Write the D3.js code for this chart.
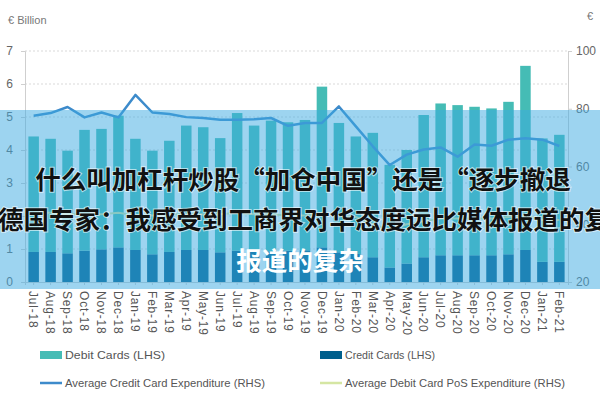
<!DOCTYPE html>
<html>
<head>
<meta charset="utf-8">
<script src="https://cdn.jsdelivr.net/npm/d3@7"></script>
<style>
  html, body { margin: 0; padding: 0; background: #fff; }
  svg { display: block; }
</style>
</head>
<body>
<svg id="chart" width="600" height="400"></svg>
<script>
// ---- Data ----
const months = ["Jul-18","Aug-18","Sep-18","Oct-18","Nov-18","Dec-18","Jan-19","Feb-19","Mar-19","Apr-19","May-19","Jun-19",
  "Jul-19","Aug-19","Sep-19","Oct-19","Nov-19","Dec-19","Jan-20","Feb-20","Mar-20","Apr-20","May-20","Jun-20",
  "Jul-20","Aug-20","Sep-20","Oct-20","Nov-20","Dec-20","Jan-21","Feb-21"];
// € billion (LHS)
const creditCards = [0.91,0.91,0.87,0.95,0.99,1.05,0.97,0.84,0.91,0.97,0.97,0.90,
  0.95,0.93,0.93,0.95,0.96,1.05,0.90,0.85,0.75,0.44,0.56,0.75,
  0.81,0.81,0.81,0.81,0.84,0.97,0.61,0.61];
const debitCards = [3.50,3.43,3.11,3.66,3.65,3.99,3.37,3.14,3.37,3.77,3.72,3.46,
  4.17,3.81,3.96,3.89,3.95,4.87,3.92,3.56,3.77,3.11,3.44,4.31,
  4.60,4.55,4.50,4.45,4.62,5.58,3.74,3.85];
// € (RHS)
const avgCreditExp = [77.6,78.5,80.6,77.0,78.7,77.0,84.8,78.7,78.2,77.1,76.8,76.2,
  76.2,76.4,76.8,74.1,75.1,75.1,80.8,73.9,67.0,60.5,64.1,65.9,
  66.6,63.4,67.6,67.2,69.3,69.8,69.3,67.1];
const avgDebitPosExp = [44.0,44.0,43.5,43.5,43.5,44.0,43.0,43.0,43.5,43.5,43.5,43.5,
  44.0,43.5,43.5,43.0,43.0,44.0,43.0,42.5,40.0,38.0,40.0,41.0,
  42.0,42.0,42.0,42.0,42.5,43.0,41.5,41.5];
const leftTicks = [0,1,2,3,4,5,6,7];
const rightTicks = [20,40,60,80,100];
const legendItems = ["Debit Cards (LHS)","Credit Cards (LHS)","Average Credit Card Expenditure (RHS)","Average Debit Card PoS Expenditure (RHS)"];
const overlayLines = ["什么叫加杠杆炒股“加仓中国”还是“逐步撤退","德国专家：我感受到工商界对华态度远比媒体报道的复杂","报道的复杂"];

// ---- Layout ----
const svg = d3.select("#chart");
const X0 = 25, X1 = 568, Y0 = 282, Y1 = 51;
const x = d3.scaleBand().domain(months).range([X0, X1]).paddingInner(0.38).paddingOuter(0.2);
const yL = d3.scaleLinear().domain([0, 7]).range([Y0, Y1]);
const yR = d3.scaleLinear().domain([20, 100]).range([Y0, Y1]);

const debitCol = "#45bcb5", creditCol = "#005f8c", lineCol = "#3d8bcb", posCol = "#d5e6a3";
const axisCol = "#cfcfcf", textCol = "#666";
const narrow = "Liberation Sans Narrow, Liberation Sans, sans-serif";

// gridlines
svg.append("g").selectAll("line").data(leftTicks.filter(d => d > 0)).join("line")
  .attr("x1", X0).attr("x2", X1).attr("y1", d => yL(d)).attr("y2", d => yL(d))
  .attr("stroke", "#d9d9d9").attr("stroke-width", 1).attr("stroke-dasharray", "2,2");

// left axis
const gL = svg.append("g").attr("transform", `translate(${X0},0)`)
  .call(d3.axisLeft(yL).tickValues(leftTicks).tickSize(4).tickPadding(8).tickFormat(d3.format("d")));
gL.select(".domain").attr("stroke", axisCol);
gL.selectAll(".tick line").attr("stroke", axisCol);
gL.selectAll("text").attr("fill", textCol).style("font-family", narrow).style("font-size", "12px");

// right axis
const gR = svg.append("g").attr("transform", `translate(${X1},0)`)
  .call(d3.axisRight(yR).tickValues(rightTicks).tickSize(4).tickPadding(4));
gR.select(".domain").attr("stroke", axisCol);
gR.selectAll(".tick line").attr("stroke", axisCol);
gR.selectAll("text").attr("fill", textCol).style("font-family", narrow).style("font-size", "12px");

// bottom axis
const gB = svg.append("g").attr("transform", `translate(0,${Y0})`)
  .call(d3.axisBottom(x).tickSize(3).tickPadding(6));
gB.select(".domain").attr("stroke", axisCol);
gB.selectAll(".tick line").attr("stroke", axisCol);
gB.selectAll("text")
  .attr("fill", "#555")
  .style("font-family", narrow).style("font-size", "12px").style("letter-spacing", "0.8px")
  .attr("transform", "rotate(90)")
  .attr("text-anchor", "start")
  .attr("x", 9).attr("y", 0).attr("dy", "0.35em");

// bars: credit at bottom, debit stacked on top
const bars = svg.append("g");
bars.selectAll("rect.credit").data(months).join("rect").attr("class", "credit")
  .attr("x", d => x(d)).attr("width", x.bandwidth())
  .attr("y", (d, i) => yL(creditCards[i])).attr("height", (d, i) => yL(0) - yL(creditCards[i]))
  .attr("fill", creditCol);
bars.selectAll("rect.debit").data(months).join("rect").attr("class", "debit")
  .attr("x", d => x(d)).attr("width", x.bandwidth())
  .attr("y", (d, i) => yL(creditCards[i] + debitCards[i])).attr("height", (d, i) => yL(creditCards[i]) - yL(creditCards[i] + debitCards[i]))
  .attr("fill", debitCol);

// lines
const cx = d => x(d) + x.bandwidth() / 2;
svg.append("path").datum(months)
  .attr("d", d3.line().x(cx).y((d, i) => yR(avgDebitPosExp[i])))
  .attr("fill", "none").attr("stroke", posCol).attr("stroke-width", 2);
svg.append("path").datum(months)
  .attr("d", d3.line().x(cx).y((d, i) => yR(avgCreditExp[i])))
  .attr("fill", "none").attr("stroke", lineCol).attr("stroke-width", 2.5).attr("stroke-linejoin", "round");

// unit labels
svg.append("text").attr("x", 8).attr("y", 24).text("€ Billion")
  .attr("fill", "#777").style("font-family", narrow).style("font-size", "11px");
svg.append("text").attr("x", 587).attr("y", 20).text("€")
  .attr("fill", "#777").style("font-family", narrow).style("font-size", "11px");

// legend
const leg = svg.append("g").style("font-family", narrow).style("font-size", "11px");
const legPos = [[40, 355, "rect", debitCol, 100], [320, 355, "rect", creditCol, 90], [40, 383, "line", lineCol, 200], [320, 383, "line", posCol, 220]];
legPos.forEach((p, i) => {
  if (p[2] === "rect") {
    leg.append("rect").attr("x", p[0]).attr("y", p[1] - 4).attr("width", 22).attr("height", 8).attr("fill", p[3]);
  } else {
    leg.append("line").attr("x1", p[0]).attr("x2", p[0] + 22).attr("y1", p[1]).attr("y2", p[1]).attr("stroke", p[3]).attr("stroke-width", 2.5);
  }
  leg.append("text").attr("x", p[0] + 25).attr("y", p[1]).attr("dy", "0.35em").text(legendItems[i])
    .attr("fill", "#555").attr("textLength", p[4]).attr("lengthAdjust", "spacingAndGlyphs");
});

// overlay banner
svg.append("rect").attr("x", 0).attr("y", 110).attr("width", 600).attr("height", 179)
  .attr("fill", "rgb(60,170,225)").attr("fill-opacity", 0.5);
const ov = svg.append("g").style("font-family", "Noto Sans CJK SC, sans-serif").style("font-weight", "bold").style("font-size", "25.5px");
ov.append("text").attr("x", 303).attr("y", 189).attr("text-anchor", "middle").text(overlayLines[0])
  .attr("fill", "#111").attr("stroke", "rgba(255,255,255,0.6)").attr("stroke-width", 2).style("paint-order", "stroke");
ov.append("text").attr("x", -2).attr("y", 229).text(overlayLines[1])
  .attr("fill", "#111").attr("stroke", "rgba(255,255,255,0.6)").attr("stroke-width", 2).style("paint-order", "stroke");
ov.append("text").attr("x", 300).attr("y", 270).attr("text-anchor", "middle").text(overlayLines[2])
  .attr("fill", "#fff");
</script>
</body>
</html>
